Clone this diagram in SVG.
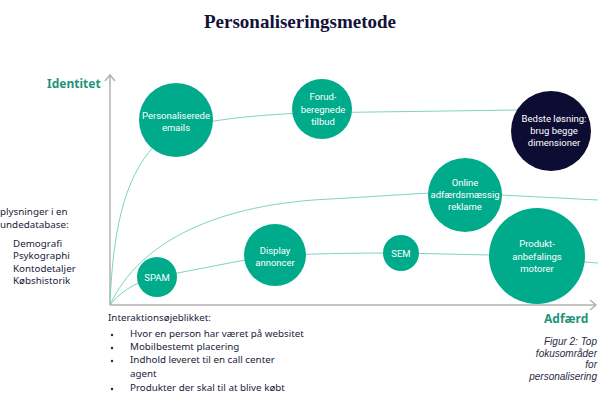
<svg xmlns="http://www.w3.org/2000/svg" width="600" height="403" viewBox="0 0 600 403">
<style>
.ax{fill:none;stroke:#b3b3b3;stroke-width:1.5}
.cv{fill:none;stroke:#7fd3bf;stroke-width:1}
.c{fill:#00ab8c}
.d{fill:#0d0c33}
.ct{font-family:"Roboto","Noto Sans",sans-serif;font-size:9.5px;fill:#ffffff;text-anchor:middle}
.lbl{font-family:"Noto Sans","Liberation Sans",sans-serif;font-size:12px;font-weight:bold;fill:#1f9479}
.tx{font-family:"Noto Sans","Liberation Sans",sans-serif;font-size:9.8px;fill:#22223a}
.cap{font-family:"Liberation Sans",sans-serif;font-size:10px;font-style:italic;fill:#2a2a48;text-anchor:end}
</style>
<rect width="600" height="403" fill="#ffffff"/>
<text x="300" y="28" text-anchor="middle" font-family="Liberation Serif,serif" font-weight="bold" font-size="19" fill="#13123a">Personaliseringsmetode</text>
<g id="axes">
<path class="ax" d="M110,305 V76 M105,81 L110,75 L115,81"/>
<path class="ax" d="M110,305 H595 M590,300 L596,305 L590,310"/>
</g>
<g id="connectors">
<path class="cv" d="M110,305 C113,220 128,170 160,140 C185,122 230,117 300,113 L520,110"/>
<path class="cv" d="M110,305 C140,240 220,204 330,199 L430,193 C450,193 470,194 500,195 L598,200"/>
<path class="cv" d="M110,305 C120,292 135,282 157,277 L245,260 C280,254 330,253 400,253 L490,255 L598,263"/>
</g>
<text class="lbl" x="47" y="88">Identitet</text>
<text class="lbl" x="544" y="323">Adfærd</text>
<g id="n-emails"><circle class="c" cx="176" cy="120" r="37"/><text class="ct" x="176" y="119">Personaliserede</text><text class="ct" x="176" y="131">emails</text></g>
<g id="n-forud"><circle class="c" cx="322" cy="109" r="30"/><text class="ct" x="323" y="100">Forud-</text><text class="ct" x="323" y="113">beregnede</text><text class="ct" x="323" y="125">tilbud</text></g>
<g id="n-bedste"><circle class="d" cx="551" cy="131" r="40"/><text class="ct" x="554" y="122" font-size="10">Bedste løsning:</text><text class="ct" x="554" y="134" font-size="10">brug begge</text><text class="ct" x="554" y="146" font-size="10">dimensioner</text></g>
<g id="n-online"><circle class="c" cx="465" cy="195" r="37"/><text class="ct" x="465" y="186">Online</text><text class="ct" x="465" y="198">adfærdsmæssig</text><text class="ct" x="465" y="210">reklame</text></g>
<g id="n-produkt"><circle class="c" cx="537" cy="256" r="48"/><text class="ct" x="537" y="247" font-size="11">Produkt-</text><text class="ct" x="537" y="260" font-size="11">anbefalings</text><text class="ct" x="537" y="272" font-size="11">motorer</text></g>
<g id="n-sem"><circle class="c" cx="401" cy="253" r="18"/><text class="ct" x="401" y="257" font-size="10.5">SEM</text></g>
<g id="n-display"><circle class="c" cx="275" cy="255" r="31"/><text class="ct" x="275" y="254" font-size="10.5">Display</text><text class="ct" x="275" y="266" font-size="10.5">annoncer</text></g>
<g id="n-spam"><circle class="c" cx="157" cy="277" r="20"/><text class="ct" x="157" y="281" font-size="10.5">SPAM</text></g>
<g id="left-text" class="tx">
<text x="0" y="215">plysninger i en</text>
<text x="0" y="228">undedatabase:</text>
<text x="13" y="247">Demografi</text>
<text x="13" y="259">Psykographi</text>
<text x="13" y="272">Kontodetaljer</text>
<text x="13" y="284">Købshistorik</text>
</g>
<g id="bottom-text" class="tx">
<text x="108" y="321">Interaktionsøjeblikket:</text>
<circle cx="112" cy="335" r="1.2" fill="#22223a"/>
<circle cx="112" cy="348" r="1.2" fill="#22223a"/>
<circle cx="112" cy="361" r="1.2" fill="#22223a"/>
<circle cx="112" cy="389" r="1.2" fill="#22223a"/>
<text x="130" y="337">Hvor en person har været på websitet</text>
<text x="130" y="350">Mobilbestemt placering</text>
<text x="130" y="363">Indhold leveret til en call center</text>
<text x="130" y="377">agent</text>
<text x="130" y="391">Produkter der skal til at blive købt</text>
</g>
<g id="caption" class="cap">
<text x="597" y="345">Figur 2: Top</text>
<text x="597" y="357">fokusområder</text>
<text x="597" y="368">for</text>
<text x="597" y="380">personalisering</text>
</g>
</svg>
